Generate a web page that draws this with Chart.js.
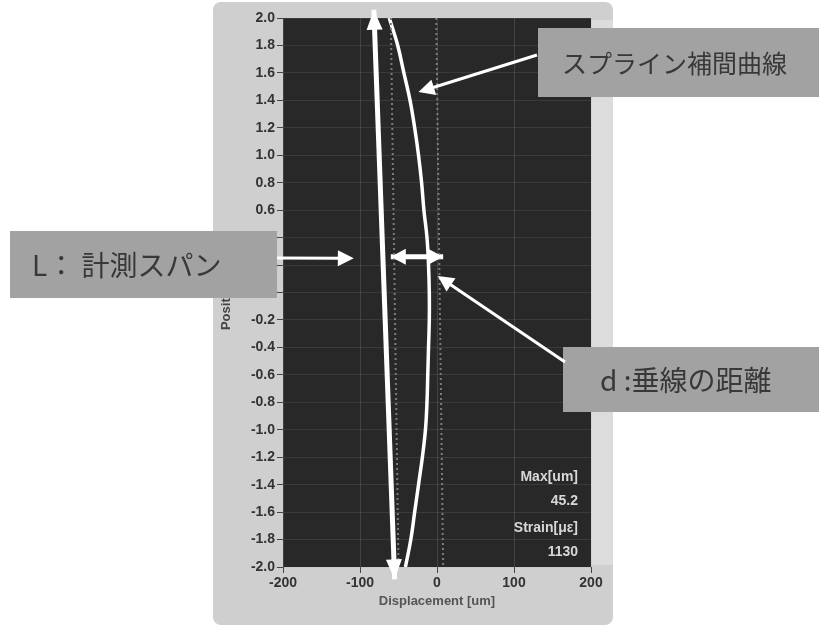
<!DOCTYPE html>
<html>
<head>
<meta charset="utf-8">
<script src="https://cdn.jsdelivr.net/npm/chart.js@4"></script>
<style>
  html, body { margin: 0; padding: 0; background: #fff; }
  canvas { display: block; }
</style>
</head>
<body>
<canvas id="chart" width="819" height="628"></canvas>
<script>
// position along the span [m]
const positions = [2.0, 1.8, 1.6, 1.4, 1.2, 1.0, 0.8, 0.6, 0.4, 0.2, 0.0,
  -0.2, -0.4, -0.6, -0.8, -1.0, -1.2, -1.4, -1.6, -1.8, -2.0];
// spline interpolated displacement [um]
const splineDisp = [-62, -51, -43, -35, -29, -24, -20, -17, -13, -11, -10,
  -10, -11, -12, -13, -15, -19, -24, -29, -34, -41];
// measurement span chord (L), end points
const spanPos = [2.06, -2.09];
const spanDisp = [-82, -55];
// dotted reference lines (measured points)
const refPos = [2.0, -2.0];
const refDispA = [-60, -50];
const refDispB = [-1, 8];
// perpendicular distance marker (d)
const distPos = [0.26, 0.26];
const distDisp = [-60, 8];

const xTicks = [-200, -100, 0, 100, 200];
const yTicks = [2.0, 1.8, 1.6, 1.4, 1.2, 1.0, 0.8, 0.6, 0.4, 0.2, 0.0,
  -0.2, -0.4, -0.6, -0.8, -1.0, -1.2, -1.4, -1.6, -1.8, -2.0];

const statLabels = ["Max[um]", "45.2", "Strain[με]", "1130"];

const callouts = [
  { text: "スプライン補間曲線", box: [538, 28, 281, 69], size: 25, tx: 562,
    tail: [537, 55], tip: [-24, 1.46] },
  { text: "L： 計測スパン", box: [10, 231, 267, 67], size: 28, tx: 32,
    tail: [277, 258], tip: [-108, 0.25] },
  { text: "d :垂線の距離", box: [563, 347, 256, 65], size: 28, tx: 600,
    tail: [565, 362], tip: [1, 0.12] },
];

function pairs(xs, ys) {
  return xs.map((x, i) => ({ x: x, y: ys[i] }));
}

function arrowHead(ctx, x1, y1, x2, y2, len, half) {
  const a = Math.atan2(y2 - y1, x2 - x1);
  ctx.beginPath();
  ctx.moveTo(x2, y2);
  ctx.lineTo(x2 - len * Math.cos(a) + half * Math.sin(a), y2 - len * Math.sin(a) - half * Math.cos(a));
  ctx.lineTo(x2 - len * Math.cos(a) - half * Math.sin(a), y2 - len * Math.sin(a) + half * Math.cos(a));
  ctx.closePath();
  ctx.fill();
}

const backdrop = {
  id: "backdrop",
  beforeDraw(chart) {
    const ctx = chart.ctx;
    const a = chart.chartArea;
    ctx.save();
    ctx.fillStyle = "#ffffff";
    ctx.fillRect(0, 0, chart.width, chart.height);
    ctx.fillStyle = "#cfcfcf";
    ctx.beginPath();
    ctx.roundRect(213, 2, 400, 623, 8);
    ctx.fill();
    ctx.fillStyle = "#dcdcdc";
    ctx.fillRect(a.right, 20, 613 - a.right, 545);
    ctx.fillStyle = "#282828";
    ctx.fillRect(a.left, a.top, a.right - a.left, a.bottom - a.top);
    ctx.restore();
  },
};

const overlay = {
  id: "overlay",
  afterDraw(chart) {
    const ctx = chart.ctx;
    const a = chart.chartArea;
    const xs = chart.scales.x;
    const ys = chart.scales.y;
    ctx.save();
    ctx.fillStyle = "#ffffff";
    ctx.strokeStyle = "#ffffff";

    // arrowheads of span L
    const p1 = [xs.getPixelForValue(spanDisp[0]), ys.getPixelForValue(spanPos[0])];
    const p2 = [xs.getPixelForValue(spanDisp[1]), ys.getPixelForValue(spanPos[1])];
    arrowHead(ctx, p2[0], p2[1], p1[0], p1[1], 20, 8);
    arrowHead(ctx, p1[0], p1[1], p2[0], p2[1], 20, 8);

    // arrowheads of distance d
    const d1 = [xs.getPixelForValue(distDisp[0]), ys.getPixelForValue(distPos[0])];
    const d2 = [xs.getPixelForValue(distDisp[1]), ys.getPixelForValue(distPos[1])];
    arrowHead(ctx, d2[0], d2[1], d1[0], d1[1], 15, 8);
    arrowHead(ctx, d1[0], d1[1], d2[0], d2[1], 15, 8);

    // stats text
    ctx.fillStyle = "#d8d8d8";
    ctx.font = "bold 14px 'Liberation Sans', sans-serif";
    ctx.textAlign = "right";
    ctx.textBaseline = "middle";
    const sy = [477, 501, 528, 552];
    statLabels.forEach((t, i) => ctx.fillText(t, a.right - 13, sy[i]));

    // callout boxes with arrows
    callouts.forEach((c) => {
      const [bx, by, bw, bh] = c.box;
      ctx.fillStyle = "#a2a2a2";
      ctx.fillRect(bx, by, bw, bh);
      ctx.fillStyle = "#383838";
      ctx.font = c.size + "px 'Noto Sans CJK JP', sans-serif";
      ctx.textAlign = "left";
      ctx.textBaseline = "middle";
      ctx.fillText(c.text, c.tx, by + bh / 2 + 1);

      const tx = xs.getPixelForValue(c.tip[0]);
      const ty = ys.getPixelForValue(c.tip[1]);
      const ang = Math.atan2(ty - c.tail[1], tx - c.tail[0]);
      ctx.strokeStyle = "#ffffff";
      ctx.fillStyle = "#ffffff";
      ctx.lineWidth = 3;
      ctx.beginPath();
      ctx.moveTo(c.tail[0], c.tail[1]);
      ctx.lineTo(tx - 12 * Math.cos(ang), ty - 12 * Math.sin(ang));
      ctx.stroke();
      arrowHead(ctx, c.tail[0], c.tail[1], tx, ty, 16, 8);
    });
    ctx.restore();
  },
};

const tickFont = { family: "'Liberation Sans', sans-serif", size: 14, weight: "bold" };

new Chart(document.getElementById("chart"), {
  type: "scatter",
  data: {
    datasets: [
      {
        label: "ref A",
        data: pairs(refDispA, refPos),
        showLine: true,
        borderColor: "#7c7c7c",
        borderWidth: 2,
        borderDash: [2, 3],
        pointRadius: 0,
      },
      {
        label: "ref B",
        data: pairs(refDispB, refPos),
        showLine: true,
        borderColor: "#7c7c7c",
        borderWidth: 2,
        borderDash: [2, 3],
        pointRadius: 0,
      },
      {
        label: "spline",
        data: pairs(splineDisp, positions),
        showLine: true,
        borderColor: "#ffffff",
        borderWidth: 3.5,
        pointRadius: 0,
        tension: 0.4,
      },
      {
        label: "span L",
        data: pairs(spanDisp, spanPos),
        showLine: true,
        borderColor: "#ffffff",
        borderWidth: 5,
        pointRadius: 0,
        clip: false,
      },
      {
        label: "d",
        data: pairs(distDisp, distPos),
        showLine: true,
        borderColor: "#ffffff",
        borderWidth: 5,
        pointRadius: 0,
        clip: false,
      },
    ],
  },
  options: {
    responsive: false,
    animation: false,
    devicePixelRatio: 1,
    layout: { padding: { left: 215, right: 228, top: 18, bottom: 15 } },
    plugins: {
      legend: { display: false },
      tooltip: { enabled: false },
    },
    scales: {
      x: {
        type: "linear",
        min: -200,
        max: 200,
        afterBuildTicks: (s) => { s.ticks = xTicks.map((v) => ({ value: v })); },
        afterFit: (s) => { s.height = 46; },
        ticks: { color: "#333", font: tickFont, padding: 2, maxRotation: 0 },
        grid: { color: "rgba(170,170,170,0.2)", tickColor: "#444", tickLength: 6 },
        border: { display: false },
        title: {
          display: true,
          text: "Displacement [um]",
          color: "#555",
          font: { family: "'Liberation Sans', sans-serif", size: 13, weight: "bold" },
        },
      },
      y: {
        type: "linear",
        min: -2,
        max: 2,
        afterBuildTicks: (s) => { s.ticks = yTicks.map((v) => ({ value: v })); },
        afterFit: (s) => { s.width = 68; },
        ticks: { color: "#333", font: tickFont, padding: 2, callback: (v) => v.toFixed(1) },
        grid: { color: "rgba(170,170,170,0.14)", tickColor: "#444", tickLength: 6 },
        border: { display: false },
        title: {
          display: true,
          text: "Position [m]",
          color: "#444",
          font: { family: "'Liberation Sans', sans-serif", size: 13, weight: "bold" },
        },
      },
    },
  },
  plugins: [backdrop, overlay],
});
</script>
</body>
</html>
